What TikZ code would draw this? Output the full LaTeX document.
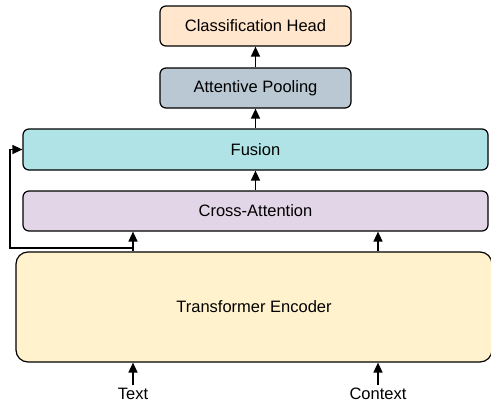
\documentclass[tikz,border=0pt]{standalone}
\usepackage{fontspec}
\setmainfont{Liberation Sans}
\usetikzlibrary{arrows.meta}

\definecolor{headfill}{HTML}{FFE6CC}
\definecolor{poolfill}{HTML}{BAC8D3}
\definecolor{fusionfill}{HTML}{B0E3E6}
\definecolor{crossfill}{HTML}{E1D5E7}
\definecolor{encfill}{HTML}{FFF2CC}

\tikzset{
  block/.style={draw=black, line width=1.2pt, rounded corners=6pt,
    inner sep=0pt, font=\fontsize{16.5}{19}\selectfont},
  lbl/.style={inner sep=1pt, font=\fontsize{16.5}{19}\selectfont},
  flow/.style={line width=1.4pt, -{Triangle[length=10pt,width=9pt]}}
}

\begin{document}
\begin{tikzpicture}[x=1pt,y=-1pt]
\useasboundingbox (0,0) rectangle (491,405);

% stacked processing blocks
\node[block, fill=headfill, minimum width=191pt, minimum height=40pt] (head) at (255.5,26) {Classification Head};
\node[block, fill=poolfill, minimum width=191pt, minimum height=40pt] (pool) at (255.5,88) {Attentive Pooling};
\node[block, fill=fusionfill, minimum width=465pt, minimum height=41pt] (fusion) at (255.5,149.5) {Fusion};
\node[block, fill=crossfill, minimum width=465pt, minimum height=40pt] (cross) at (255.5,211) {Cross-Attention};
\node[block, fill=encfill, rounded corners=12pt, minimum width=476pt, minimum height=110pt] (enc) at (254,307) {Transformer Encoder};

% inputs
\node[lbl] (text) at (133,394) {Text};
\node[lbl] (ctx) at (378,394) {Context};

% helper points for the vertical links
\coordinate (tin) at (133,385);
\coordinate (cin) at (378,385);
\coordinate (tap) at (133,248);
\coordinate (fb) at (10,248);

% connectors
\draw[flow] (tin) -- (tin |- enc.south);
\draw[flow] (cin) -- (cin |- enc.south);
\draw[flow] (tin |- enc.north) -- (tin |- cross.south);
\draw[flow] (cin |- enc.north) -- (cin |- cross.south);
\draw[flow] (tap) -- (fb) |- (fusion.west);
\draw[flow] (cross.north) -- (fusion.south);
\draw[flow] (fusion.north) -- (pool.south);
\draw[flow] (pool.north) -- (head.south);
\end{tikzpicture}
\end{document}
